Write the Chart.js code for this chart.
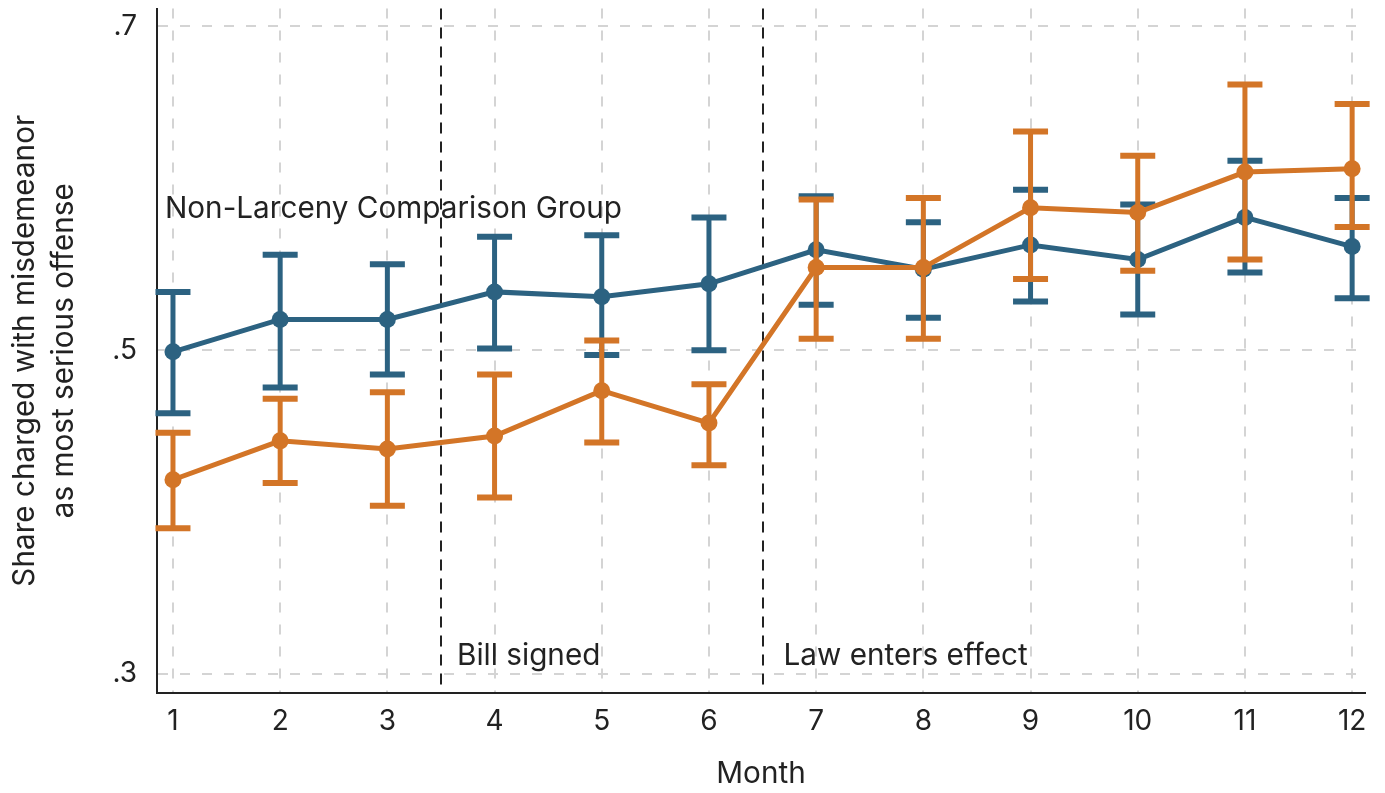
<!DOCTYPE html>
<html>
<head>
<meta charset="utf-8">
<title>Share charged with misdemeanor by month</title>
<script src="https://cdn.jsdelivr.net/npm/chart.js@4.4.1/dist/chart.umd.min.js"></script>
<style>
  html, body { margin: 0; padding: 0; background: #fff; }
  #wrap { width: 1385px; height: 793px; }
</style>
</head>
<body>
<div id="wrap"><canvas id="chart" width="1385" height="793"></canvas></div>
<script>
/* =========================================================
   Share charged with misdemeanor as most serious offense,
   by month, with 95% confidence intervals.
   Two groups: larceny (orange) and non-larceny comparison (blue).
   Values.
   ========================================================= */

const months = [1, 2, 3, 4, 5, 6, 7, 8, 9, 10, 11, 12];
const monthTickLabels = ["1", "2", "3", "4", "5", "6", "7", "8", "9", "10", "11", "12"];

const yTickValues = [0.3, 0.5, 0.7];
const yTickLabels = [".3", ".5", ".7"];

// comparison group (non-larceny) — blue
const comparisonMean = [0.499, 0.519, 0.519, 0.536, 0.533, 0.541, 0.562, 0.550, 0.565, 0.556, 0.582, 0.564];
const comparisonLow  = [0.461, 0.477, 0.485, 0.501, 0.497, 0.500, 0.528, 0.520, 0.530, 0.522, 0.548, 0.532];
const comparisonHigh = [0.536, 0.559, 0.553, 0.570, 0.571, 0.582, 0.595, 0.579, 0.599, 0.590, 0.617, 0.594];

// larceny — orange
const larcenyMean = [0.420, 0.444, 0.439, 0.447, 0.475, 0.455, 0.551, 0.551, 0.588, 0.585, 0.610, 0.612];
const larcenyLow  = [0.390, 0.418, 0.404, 0.409, 0.443, 0.429, 0.507, 0.507, 0.544, 0.549, 0.556, 0.576];
const larcenyHigh = [0.449, 0.470, 0.474, 0.485, 0.506, 0.479, 0.593, 0.594, 0.635, 0.620, 0.664, 0.652];

// vertical event markers
const eventMonths = [3.5, 6.5];
const eventLabels = ["Bill signed", "Law enters effect"];
const eventLabelY = 0.3055;

const groupLabel = "Non-Larceny Comparison Group";
const groupLabelX = 0.925;
const groupLabelY = 0.5815;

const xMin = 0.851, xMax = 12.12;
const yMin = 0.2883, yMax = 0.711;

const BLUE = "#2c6281";
const ORANGE = "#d37527";
const INK = "#222222";
const FONT = "Inter";
const EVENT_TEXT_GAP = [16, 21]; // px from the dashed line to its label

const toPoints = (vals) => months.map((m, i) => ({ x: m, y: vals[i] }));

const errorBars = {
  0: { low: larcenyLow, high: larcenyHigh, color: ORANGE },
  1: { low: comparisonLow, high: comparisonHigh, color: BLUE },
};

// error bars for each series, drawn just before the series itself
const errorBarPlugin = {
  id: "errorBars",
  beforeDatasetDraw(chart, args) {
    const eb = errorBars[args.index];
    if (!eb) return;
    const { ctx, scales: { x, y } } = chart;
    ctx.save();
    ctx.strokeStyle = eb.color;
    ctx.lineCap = "butt";
    const capHalf = 17.5;
    months.forEach((m, i) => {
      const px = x.getPixelForValue(m);
      const top = y.getPixelForValue(eb.high[i]);
      const bot = y.getPixelForValue(eb.low[i]);
      ctx.lineWidth = 5;
      ctx.beginPath();
      ctx.moveTo(px, top);
      ctx.lineTo(px, bot);
      ctx.stroke();
      ctx.lineWidth = 6;
      ctx.beginPath();
      ctx.moveTo(px - capHalf, top);
      ctx.lineTo(px + capHalf, top);
      ctx.moveTo(px - capHalf, bot);
      ctx.lineTo(px + capHalf, bot);
      ctx.stroke();
    });
    ctx.restore();
  },
};

// dashed event lines + text annotations
const annotationPlugin = {
  id: "annotations",
  beforeDatasetsDraw(chart) {
    const { ctx, chartArea, scales: { x, y } } = chart;
    ctx.save();
    ctx.strokeStyle = INK;
    ctx.lineWidth = 2;
    ctx.setLineDash([11, 8]);
    eventMonths.forEach((m) => {
      const px = Math.round(x.getPixelForValue(m));
      ctx.beginPath();
      ctx.moveTo(px, chartArea.top);
      ctx.lineTo(px, chartArea.bottom);
      ctx.stroke();
    });
    ctx.setLineDash([]);

    ctx.fillStyle = INK;
    ctx.font = `29.7px ${FONT}`;
    ctx.textBaseline = "alphabetic";
    ctx.textAlign = "left";
    eventMonths.forEach((m, i) => {
      ctx.fillText(eventLabels[i], x.getPixelForValue(m) + EVENT_TEXT_GAP[i], y.getPixelForValue(eventLabelY));
    });
    ctx.fillText(groupLabel, x.getPixelForValue(groupLabelX), y.getPixelForValue(groupLabelY));
    ctx.restore();
  },
};

const ctx = document.getElementById("chart").getContext("2d");

new Chart(ctx, {
  type: "line",
  data: {
    datasets: [
      {
        label: "Larceny",
        data: toPoints(larcenyMean),
        borderColor: ORANGE,
        backgroundColor: ORANGE,
        borderWidth: 5,
        pointRadius: 8.5,
        pointBorderWidth: 0,
        tension: 0,
      },
      {
        label: "Non-Larceny Comparison Group",
        data: toPoints(comparisonMean),
        borderColor: BLUE,
        backgroundColor: BLUE,
        borderWidth: 5,
        pointRadius: 8.5,
        pointBorderWidth: 0,
        tension: 0,
      },
    ],
  },
  options: {
    responsive: false,
    animation: false,
    layout: { padding: { top: 8, right: 20, left: 0, bottom: 0 } },
    plugins: {
      legend: { display: false },
      tooltip: { enabled: false },
    },
    scales: {
      x: {
        type: "linear",
        min: xMin,
        max: xMax,
        afterBuildTicks: (s) => { s.ticks = months.map((v) => ({ value: v })); },
        afterFit: (s) => { s.height = 100; s.paddingLeft = 0; s.paddingRight = 0; },
        grid: { color: "#d4d4d4", lineWidth: 2, drawTicks: false },
        border: { display: true, color: INK, width: 2, dash: [10, 12] },
        ticks: {
          color: INK,
          padding: 12,
          font: { family: FONT, size: 28 },
          maxRotation: 0,
          callback: (v) => monthTickLabels[months.indexOf(v)] ?? "",
        },
        title: {
          display: true,
          text: "Month",
          color: INK,
          font: { family: FONT, size: 29.7, lineHeight: 1.1 },
          padding: { top: 0, bottom: 3 },
        },
      },
      y: {
        type: "linear",
        min: yMin,
        max: yMax,
        afterBuildTicks: (s) => { s.ticks = yTickValues.map((v) => ({ value: v })); },
        afterFit: (s) => { s.width = 157; s.paddingTop = 0; s.paddingBottom = 0; },
        grid: { color: "#d4d4d4", lineWidth: 2, drawTicks: false },
        border: { display: true, color: INK, width: 2, dash: [10, 12] },
        ticks: {
          color: INK,
          padding: 20,
          font: { family: FONT, size: 28 },
          callback: (v) => yTickLabels[yTickValues.indexOf(v)] ?? "",
        },
        title: {
          display: true,
          text: ["Share charged with misdemeanor", "as most serious offense"],
          color: INK,
          font: { family: FONT, size: 29.7, lineHeight: 1.3 },
          padding: { top: 6, bottom: 0 },
        },
      },
    },
  },
  plugins: [errorBarPlugin, annotationPlugin],
});
</script>
</body>
</html>
